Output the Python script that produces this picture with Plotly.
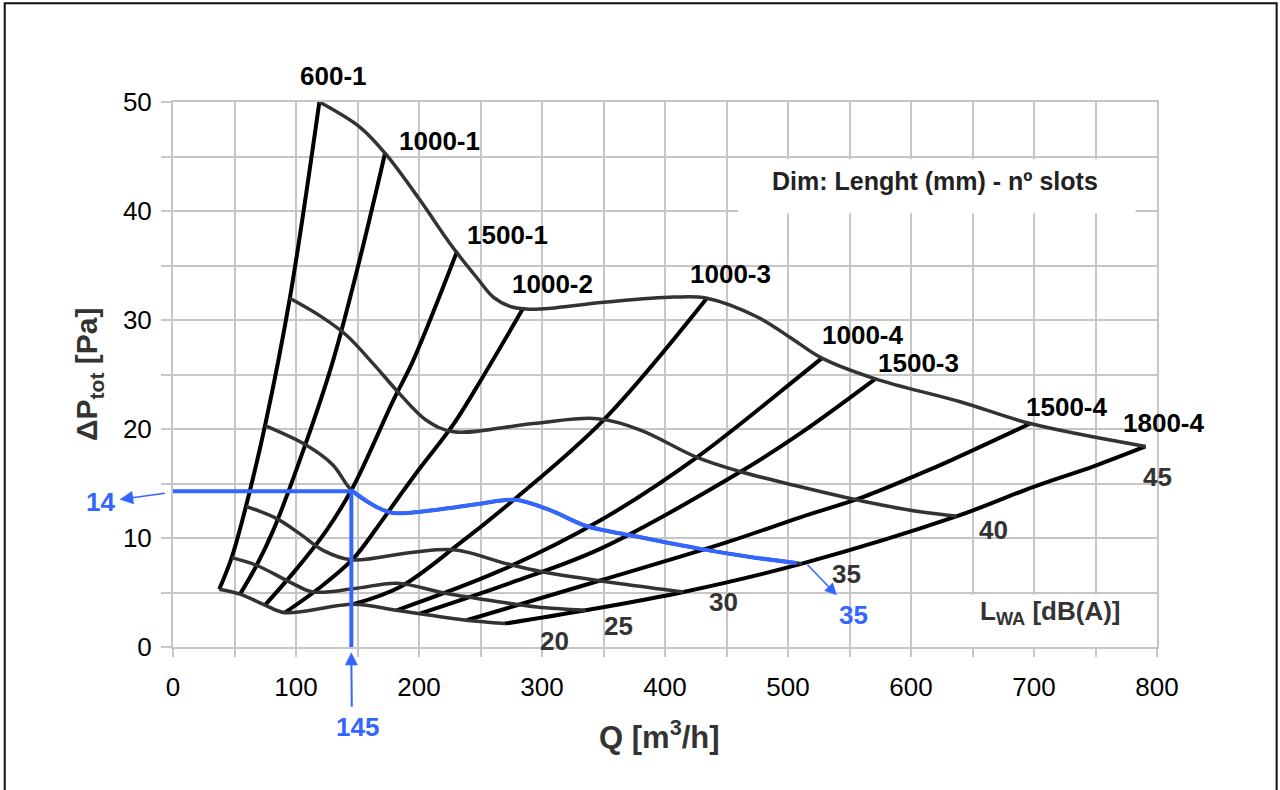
import plotly.graph_objects as go

# ---------------- data ----------------
# Size curves "Lenght(mm)-slots": Q [m3/h] vs dP_tot [Pa]
q_600_1 = [37.6, 47.7, 59.3, 74.8, 95.0, 119.0]
dp_600_1 = [5.3, 8.2, 12.9, 20.3, 32.0, 50.0]
q_1000_1 = [54.5, 68.0, 81.5, 108.0, 130.2, 151.9, 172.4]
dp_1000_1 = [4.85, 7.5, 10.7, 18.7, 26.3, 35.6, 45.3]
q_1500_1 = [74.8, 100.0, 124.8, 146.5, 179.0, 195.3, 230.6]
dp_1500_1 = [3.85, 7.1, 10.7, 14.7, 22.6, 26.3, 36.2]
q_1000_2 = [91.0, 120.0, 146.5, 165.5, 184.5, 200.7, 227.8, 252.0, 284.3]
dp_1000_2 = [3.15, 5.5, 8.1, 10.9, 13.9, 16.4, 20.4, 24.8, 31.0]
q_1000_3 = [146.5, 184.5, 233.0, 276.6, 349.8, 434.0]
dp_1000_3 = [3.92, 5.5, 9.5, 13.46, 20.8, 32.0]
q_1000_4 = [181.8, 266.0, 347.2, 425.9, 510.0, 527.6]
dp_1000_4 = [3.37, 7.0, 11.6, 17.4, 24.9, 26.5]
q_1500_3 = [200.7, 275.0, 347.2, 461.0, 510.0, 571.0]
dp_1500_3 = [3.06, 5.9, 9.0, 16.05, 19.6, 24.6]
q_1500_4 = [238.7, 347.2, 450.0, 510.0, 562.0, 607.5, 632.0, 697.0]
dp_1500_4 = [2.45, 6.1, 9.6, 11.9, 13.8, 15.9, 17.1, 20.5]
q_1800_4 = [270.0, 335.5, 415.0, 511.3, 637.4, 699.7, 749.0, 790.7]
dp_1800_4 = [2.15, 3.37, 5.05, 7.65, 12.0, 14.7, 16.6, 18.4]

size_names = ["600-1", "1000-1", "1500-1", "1000-2", "1000-3",
              "1000-4", "1500-3", "1500-4", "1800-4"]

# Sound power level curves L_WA [dB(A)]
q_lwa20 = [37.6, 54.5, 74.8, 91.0, 146.5, 181.8, 200.7, 238.7, 270.0]
dp_lwa20 = [5.3, 4.85, 3.85, 3.15, 3.92, 3.37, 3.06, 2.45, 2.15]
q_lwa25 = [47.7, 67.8, 95.0, 114.0, 147.8, 182.0, 222.4, 266.0, 296.0, 335.5]
dp_lwa25 = [8.2, 7.5, 5.96, 5.05, 5.36, 5.85, 4.9, 4.13, 3.67, 3.37]
q_lwa30 = [59.3, 84.0, 103.0, 122.0, 145.0, 195.3, 230.0, 271.0, 300.0, 364.0, 415.0]
dp_lwa30 = [12.9, 11.8, 10.4, 8.87, 8.0, 8.7, 8.9, 7.65, 6.9, 5.8, 5.05]
q_lwa35 = [74.8, 108.5, 130.0, 145.0, 165.5, 179.0, 215.0, 249.6, 278.0,
           306.5, 336.0, 374.0, 428.6, 469.3, 511.3]
dp_lwa35 = [20.3, 18.5, 16.7, 14.4, 12.85, 12.3, 12.6, 13.15, 13.5,
            12.55, 11.1, 10.2, 9.0, 8.26, 7.65]
q_lwa40 = [95.0, 119.3, 141.0, 162.7, 184.5, 206.0, 228.0, 292.7, 345.0,
           380.0, 426.0, 461.0, 510.0, 564.0, 607.5, 637.4]
dp_lwa40 = [32.0, 30.4, 28.6, 26.0, 23.2, 20.8, 19.75, 20.5, 20.95,
            19.9, 17.4, 16.1, 14.7, 13.3, 12.4, 12.0]
q_lwa45 = [119.0, 151.9, 172.4, 200.8, 219.7, 230.6, 246.9, 260.4, 274.0, 287.5,
           298.0, 352.6, 407.0, 434.0, 474.7, 501.8, 527.6, 571.0, 640.0, 697.0, 790.7]
dp_lwa45 = [50.0, 47.7, 45.3, 41.0, 37.9, 36.2, 33.9, 32.1, 31.25, 31.0,
            31.0, 31.65, 32.1, 32.0, 30.3, 28.4, 26.5, 24.6, 22.5, 20.5, 18.4]
lwa_levels = ["20", "25", "30", "35", "40", "45"]

# Selection example (blue)
sel_q = 145
sel_dp = 14.3
sel_lwa = "35"
sel_curve_q = [145.0, 165.5, 179.0, 215.0, 249.6, 278.0, 306.5, 336.0, 374.0, 428.6, 469.3, 507.0]
sel_curve_dp = [14.4, 12.85, 12.3, 12.6, 13.15, 13.5, 12.55, 11.1, 10.2, 9.0, 8.26, 7.7]

x_ticks = [0, 100, 200, 300, 400, 500, 600, 700, 800]
y_ticks = [0, 10, 20, 30, 40, 50]

# ---------------- figure ----------------
FONT = "Liberation Sans, Arial, sans-serif"
BLUE = "#3366ff"
GRID = "#c6c6c6"
DARK = "#333333"
LAB = 26

fig = go.Figure()

size_q = [q_600_1, q_1000_1, q_1500_1, q_1000_2, q_1000_3, q_1000_4, q_1500_3, q_1500_4, q_1800_4]
size_dp = [dp_600_1, dp_1000_1, dp_1500_1, dp_1000_2, dp_1000_3, dp_1000_4, dp_1500_3, dp_1500_4, dp_1800_4]
for name, xs, ys in zip(size_names, size_q, size_dp):
    fig.add_trace(go.Scatter(x=xs, y=ys, mode="lines", name=name,
                             line=dict(color="#000000", width=4, shape="spline"),
                             showlegend=False, hoverinfo="skip"))

lwa_q = [q_lwa20, q_lwa25, q_lwa30, q_lwa35, q_lwa40, q_lwa45]
lwa_dp = [dp_lwa20, dp_lwa25, dp_lwa30, dp_lwa35, dp_lwa40, dp_lwa45]
for name, xs, ys in zip(lwa_levels, lwa_q, lwa_dp):
    fig.add_trace(go.Scatter(x=xs, y=ys, mode="lines", name=name,
                             line=dict(color=DARK, width=3.5, shape="spline"),
                             showlegend=False, hoverinfo="skip"))

# blue selection lines
fig.add_trace(go.Scatter(x=[0, sel_q], y=[sel_dp, sel_dp], mode="lines",
                         line=dict(color=BLUE, width=4), showlegend=False, hoverinfo="skip"))
fig.add_trace(go.Scatter(x=[sel_q, sel_q], y=[0, sel_dp], mode="lines",
                         line=dict(color=BLUE, width=4), showlegend=False, hoverinfo="skip"))
fig.add_trace(go.Scatter(x=sel_curve_q, y=sel_curve_dp, mode="lines",
                         line=dict(color=BLUE, width=4, shape="spline"),
                         showlegend=False, hoverinfo="skip"))

ann = []


def label(x, y, text, color, size=LAB, angle=0):
    return dict(x=x, y=y, xref="paper", yref="paper", text=text, showarrow=False,
                xanchor="center", yanchor="middle", textangle=angle,
                font=dict(family=FONT, size=size, color=color))


# size labels (paper coordinates so that labels outside the axis range are kept)
size_lab_pos = [(0.1634, 1.0472), (0.2712, 0.9279), (0.3403, 0.7554), (0.3861, 0.6655), (0.5661, 0.6839),
                (0.7003, 0.5719), (0.7573, 0.5206), (0.9078, 0.4398), (1.0064, 0.4105)]
for name, (x, y) in zip(size_names, size_lab_pos):
    ann.append(label(x, y, "<b>%s</b>" % name, "#000000"))
# LWA labels
lwa_lab_pos = [(0.3882, 0.0105), (0.4532, 0.0380), (0.5590, 0.0820), (0.6841, 0.1334),
               (0.8336, 0.2141), (1.0003, 0.3114)]
for name, (x, y) in zip(lwa_levels, lwa_lab_pos):
    ann.append(label(x, y, "<b>%s</b>" % name, DARK))

# blue labels and arrows
ann.append(label(0.6912, 0.0582, "<b>%s</b>" % sel_lwa, BLUE))
ann.append(dict(x=539.7, y=4.74, ax=514.7, ay=7.68, xref="x", yref="y", axref="x", ayref="y",
                text="", showarrow=True, arrowhead=2, arrowsize=1.6, arrowwidth=1.5, arrowcolor=BLUE))
ann.append(label(0.1878, -0.1473, "<b>%d</b>" % sel_q, BLUE))
ann.append(dict(x=0.1812, y=-0.0097, ax=0.5, ay=56, xref="paper", yref="paper",
                text="", showarrow=True, arrowhead=2, arrowsize=1.3, arrowwidth=2, arrowcolor=BLUE))
ann.append(label(-0.0735, 0.2655, "<b>%d</b>" % round(sel_dp), BLUE))
ann.append(dict(x=-0.0542, y=0.2705, ax=46.7, ay=-6.6, xref="paper", yref="paper",
                text="", showarrow=True, arrowhead=2, arrowsize=1.8, arrowwidth=1.5, arrowcolor=BLUE))

# info texts
ann.append(label(0.7746, 0.8545, "<b>Dim: Lenght (mm) - nº slots</b>", "#222222", size=25))
ann.append(label(0.8915, 0.0637, "<b>L<sub>WA</sub> [dB(A)]</b>", DARK, size=26))

# axis titles
ann.append(label(0.4946, -0.1620, "<b>Q [m<sup>3</sup>/h]</b>", DARK, size=31))
ann.append(label(-0.0857, 0.5004, "<b>ΔP<sub>tot</sub> [Pa]</b>", DARK, size=30, angle=-90))

shapes = [
    dict(type="rect", xref="x", yref="y", x0=459.5, x1=782.5, y0=39.8, y1=44.75,
         fillcolor="white", line=dict(width=0), layer="above"),
    dict(type="rect", xref="x", yref="y", x0=619.7, x1=796.0, y0=-0.12, y1=4.8,
         fillcolor="white", line=dict(width=0), layer="above"),
    dict(type="rect", xref="paper", yref="paper", x0=-0.171, x1=1.1216, y0=-0.4, y1=1.181,
         line=dict(color="#111111", width=2), fillcolor="rgba(0,0,0,0)", layer="above"),
]

fig.update_layout(
    width=1280, height=790,
    margin=dict(l=173, r=123, t=102, b=143, pad=0),
    paper_bgcolor="white", plot_bgcolor="white",
    annotations=ann, shapes=shapes, showlegend=False,
    font=dict(family=FONT, size=26, color="#000000"),
)
fig.update_xaxes(range=[0, 800], tickvals=x_ticks, showgrid=True, gridcolor=GRID, gridwidth=2,
                 zeroline=False, showline=True, linecolor=GRID, linewidth=2, mirror=True,
                 ticks="outside", ticklen=8, tickwidth=2, tickcolor=GRID,
                 tickfont=dict(family=FONT, size=26, color="#000000"), ticklabelstandoff=8,
                 minor=dict(dtick=50, tick0=0, showgrid=True, gridcolor=GRID, gridwidth=2,
                            ticks="outside", ticklen=8, tickwidth=2, tickcolor=GRID))
fig.update_yaxes(range=[0, 50], tickvals=y_ticks, showgrid=True, gridcolor=GRID, gridwidth=2,
                 zeroline=False, showline=True, linecolor=GRID, linewidth=2, mirror=True,
                 ticks="outside", ticklen=10, tickwidth=2, tickcolor=GRID,
                 tickfont=dict(family=FONT, size=26, color="#000000"), ticklabelstandoff=4,
                 minor=dict(dtick=5, tick0=0, showgrid=True, gridcolor=GRID, gridwidth=2,
                            ticks="outside", ticklen=10, tickwidth=2, tickcolor=GRID))

# remove the default 8px page margin so the figure fills the window exactly
fig.write_html("out.html", config={"displayModeBar": False},
               post_script="document.body.style.margin='0px';")
